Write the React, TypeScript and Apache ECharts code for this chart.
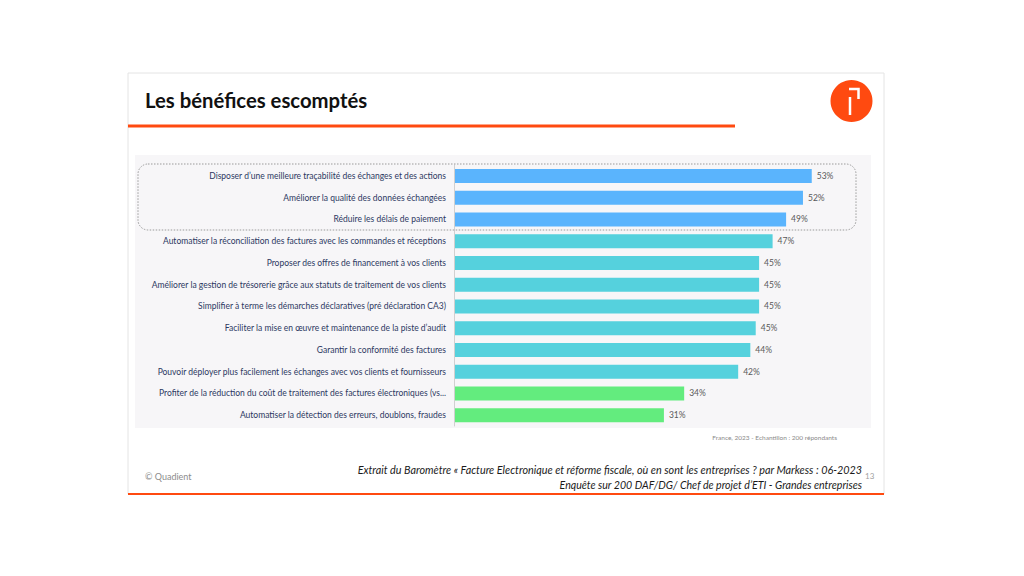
import React, { useEffect, useRef } from "react";
import * as echarts from "echarts";

const categories = [
  "Disposer d’une meilleure traçabilité des échanges et des actions",
  "Améliorer la qualité des données échangées",
  "Réduire les délais de paiement",
  "Automatiser la réconciliation des factures avec les commandes et réceptions",
  "Proposer des offres de financement à vos clients",
  "Améliorer la gestion de trésorerie grâce aux statuts de traitement de vos clients",
  "Simplifier à terme les démarches déclaratives (pré déclaration CA3)",
  "Faciliter la mise en œuvre et maintenance de la piste d’audit",
  "Garantir la conformité des factures",
  "Pouvoir déployer plus facilement les échanges avec vos clients et fournisseurs",
  "Profiter de la réduction du coût de traitement des factures électroniques (vs...",
  "Automatiser la détection des erreurs, doublons, fraudes",
];
const values = [53, 51.7, 49.2, 47.2, 45.2, 45.2, 45.2, 44.7, 43.9, 42.1, 34.1, 31.1];
const groups = ["top", "top", "top", "mid", "mid", "mid", "mid", "mid", "mid", "mid", "low", "low"];
const groupColors: Record<string, string> = { top: "#5AB4FD", mid: "#55D1DD", low: "#63EC7E" };

const title = "Les bénéfices escomptés";
const sourceNote = "France, 2023 - Echantillon : 200 répondants";
const footerLeft = "© Quadient";
const footerLine1 = "Extrait du Baromètre « Facture Electronique et réforme fiscale, où en sont les entreprises ? par Markess : 06-2023";
const footerLine2 = "Enquête sur 200 DAF/DG/ Chef de projet d’ETI - Grandes entreprises";
const pageNumber = "13";

const ORANGE = "#FF4A10";

export default function App() {
  const ref = useRef<HTMLDivElement>(null);
  useEffect(() => {
    if (!ref.current) return;
    const chart = echarts.init(ref.current, undefined, { renderer: "svg" });
    chart.setOption({
      animation: false,
      backgroundColor: "#ffffff",
      grid: { left: 454, top: 165, width: 405, height: 261, containLabel: false },
      xAxis: { type: "value", min: 0, max: 60, show: false },
      yAxis: {
        type: "category",
        inverse: true,
        data: categories,
        axisLine: { show: true, lineStyle: { color: "#D0D0D0", width: 1 } },
        axisTick: { show: false },
        axisLabel: {
          margin: 8,
          fontFamily: "Lato",
          fontSize: 8.5,
          color: "#2C3862",
        },
        z: 5,
      },
      graphic: [
        // slide frame
        { type: "rect", shape: { x: 128, y: 73, width: 756, height: 421 }, style: { fill: "#ffffff", stroke: "#E4E4E4", lineWidth: 1 }, z: -10 },
        // chart panel
        { type: "rect", shape: { x: 135, y: 155, width: 736, height: 273 }, style: { fill: "#F7F6F8" }, z: -5 },
        // dashed highlight box
        { type: "rect", shape: { x: 138, y: 164, width: 718, height: 66, r: 10 }, style: { fill: "none", stroke: "#9A9A9A", lineWidth: 1, lineDash: [1.5, 1.5] }, z: 10 },
        // title
        { type: "text", x: 145, y: 100, style: { text: title, fontFamily: "Lato", fontWeight: "bold", fontSize: 20.3, fill: "#111111", textVerticalAlign: "middle" } },
        { type: "rect", shape: { x: 128, y: 124.5, width: 607, height: 3 }, style: { fill: ORANGE } },
        // logo
        { type: "circle", shape: { cx: 851.5, cy: 101, r: 21 }, style: { fill: ORANGE } },
        { type: "polyline", shape: { points: [[849, 89], [858.5, 89], [858.5, 99]] }, style: { stroke: "#ffffff", lineWidth: 2.5, fill: "none" } },
        { type: "line", shape: { x1: 850, y1: 97, x2: 850, y2: 115 }, style: { stroke: "#ffffff", lineWidth: 2.5 } },
        // source note
        { type: "text", x: 837, y: 437, style: { text: sourceNote, fontFamily: "Lato", fontSize: 6.5, fill: "#8A8A8A", textAlign: "right", textVerticalAlign: "middle" } },
        // footer
        { type: "text", x: 145, y: 476, style: { text: footerLeft, fontFamily: "Lato", fontSize: 9, fill: "#8C8C8C", textVerticalAlign: "middle" } },
        { type: "text", x: 862, y: 469, style: { text: footerLine1, fontFamily: "Lato", fontStyle: "italic", fontSize: 10.8, fill: "#1A1A1A", textAlign: "right", textVerticalAlign: "middle" } },
        { type: "text", x: 862, y: 484.5, style: { text: footerLine2, fontFamily: "Lato", fontStyle: "italic", fontSize: 10.6, fill: "#1A1A1A", textAlign: "right", textVerticalAlign: "middle" } },
        { type: "text", x: 865, y: 476, style: { text: pageNumber, fontFamily: "Lato", fontSize: 8, fill: "#A0A0A0", textVerticalAlign: "middle" } },
        { type: "rect", shape: { x: 128, y: 493, width: 756, height: 2 }, style: { fill: ORANGE } },
      ],
      series: [
        {
          type: "bar",
          barWidth: 14,
          data: values.map((v, i) => ({
            value: v,
            itemStyle: { color: groupColors[groups[i]] },
          })),
          label: {
            show: true,
            position: "right",
            distance: 5,
            fontFamily: "Lato",
            fontSize: 8.5,
            color: "#595959",
            formatter: (p: any) => Math.round(p.value) + "%",
          },
        },
      ],
    });
    return () => chart.dispose();
  }, []);
  return (
    <div
      ref={ref}
      style={{ position: "absolute", left: 0, top: 0, width: 1024, height: 576 }}
    />
  );
}
